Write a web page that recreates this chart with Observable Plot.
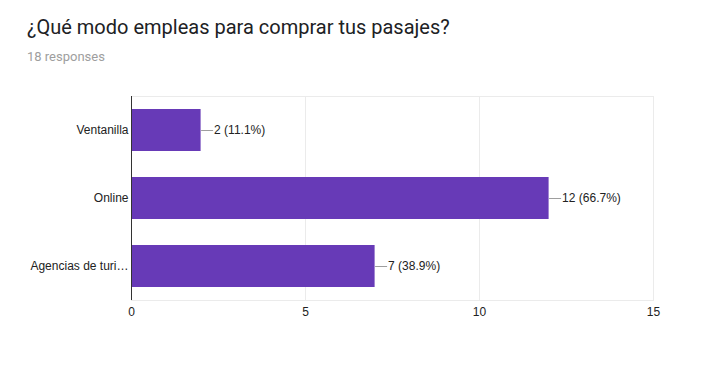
<!DOCTYPE html>
<html>
<head>
<meta charset="utf-8">
<script src="https://cdn.jsdelivr.net/npm/d3@7"></script>
<script src="https://cdn.jsdelivr.net/npm/@observablehq/plot@0.6"></script>
<style>
  body { margin: 0; background: #fff; }
  #wrap { position: relative; width: 715px; height: 384px; overflow: hidden; }
  #title { position: absolute; left: 27px; top: 15px; font-family: Roboto, sans-serif; font-size: 20px; color: #202124; white-space: nowrap; }
  #sub { position: absolute; left: 27px; top: 49px; font-family: Roboto, sans-serif; font-size: 13px; color: #9e9e9e; white-space: nowrap; }
  #chart { position: absolute; left: 0; top: 0; }
</style>
</head>
<body>
<div id="wrap">
  <div id="chart"></div>
  <div id="title">¿Qué modo empleas para comprar tus pasajes?</div>
  <div id="sub">18 responses</div>
</div>
<script>
const categories = ["Ventanilla", "Online", "Agencias de turi…"];
const counts = [2, 12, 7];
const totalResponses = 18;
const xTicks = [0, 5, 10, 15];

const data = categories.map((c, i) => ({
  cat: c,
  v: counts[i],
  label: `${counts[i]} (${(counts[i] / totalResponses * 100).toFixed(1)}%)`
}));

const leader = {
  draw(context) { context.moveTo(0, 0); context.lineTo(12, 0); }
};

const chart = Plot.plot({
  width: 715,
  height: 384,
  marginTop: 96,
  marginBottom: 84,
  marginLeft: 131,
  marginRight: 62,
  style: { fontFamily: "'Liberation Sans', Arial, sans-serif", fontSize: "12px", color: "#222", background: "transparent" },
  x: { domain: [0, 15] },
  y: { domain: categories, paddingInner: 0.38, paddingOuter: 0.19, align: 0.5 },
  marks: [
    Plot.gridX(xTicks, { stroke: "#ebebeb", strokeOpacity: 1 }),
    Plot.frame({ stroke: "#ebebeb", anchor: "top" }),
    Plot.frame({ stroke: "#ebebeb", anchor: "bottom" }),
    Plot.barX(data, { x: "v", y: "cat", fill: "#673ab7" }),
    Plot.ruleX([0], { stroke: "#333", strokeWidth: 1 }),
    Plot.dot(data, { x: "v", y: "cat", symbol: leader, stroke: "#9e9e9e", fill: "none", strokeWidth: 1 }),
    Plot.text(data, { x: "v", y: "cat", text: "label", dx: 13, textAnchor: "start", fill: "#222", fontSize: 12 }),
    Plot.axisX({ ticks: xTicks, tickSize: 0, tickPadding: 7, label: null, fill: "#222", fontSize: 12 }),
    Plot.axisY({ tickSize: 0, tickPadding: 3, label: null, fill: "#222", fontSize: 12 })
  ]
});
document.getElementById("chart").appendChild(chart);
</script>
</body>
</html>
